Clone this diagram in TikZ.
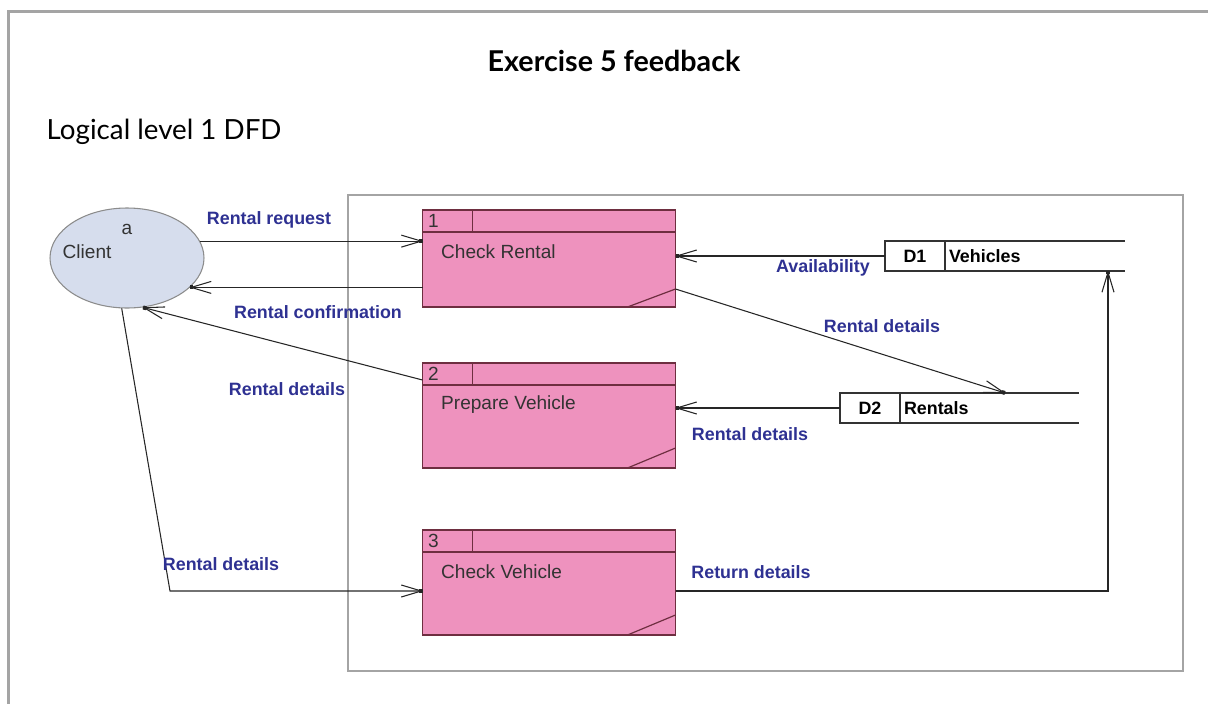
\documentclass[tikz,border=0pt]{standalone}
\usepackage{fontspec}
\setmainfont{Liberation Sans}
\newfontfamily\headfont{Lato}
\usetikzlibrary{arrows.meta, shapes.geometric}

\definecolor{procpink}{HTML}{EE92BE}
\definecolor{procedge}{HTML}{6E2E40}
\definecolor{clientblue}{HTML}{D6DDED}
\definecolor{flowblue}{HTML}{2E3192}
\definecolor{framegray}{HTML}{A4A4A4}

\tikzset{
    process/.style={draw=procedge, fill=procpink, line width=0.9pt, inner sep=0pt, outer sep=0pt, minimum width=189.75pt},
    store/.style={draw=black!80, line width=0.9pt, inner sep=0pt, outer sep=0pt, minimum width=45pt, minimum height=22.5pt, font=\fontsize{13.4}{16}\selectfont\bfseries},
    flow/.style={draw=black!85, line width=0.8pt, -{Straight Barb[length=15pt,width=9pt,sep=-3pt]Square[length=2.5pt,width=3pt]}},
    flowlabel/.style={text=flowblue, font=\fontsize{13.4}{16}\selectfont\bfseries},
    proctext/.style={text=black!80, font=\fontsize{14.3}{17}\selectfont, anchor=west}
}

\begin{document}
\begin{tikzpicture}[x=0.75pt, y=-0.75pt]
        \useasboundingbox (0,0) rectangle (1208,704);

        % page frame and heading
        \draw[framegray, line width=2.2pt] (8.5,704) -- (8.5,11.5) -- (1208,11.5);
        \node[font=\headfont\fontsize{21.5}{24}\selectfont\bfseries] (title) at (614,61) {Exercise 5 feedback};
        \node[font=\headfont\fontsize{20.8}{24}\selectfont, anchor=west] (subtitle) at (42,132) {Logical level 1 DFD};

        % system boundary
        \draw[framegray, line width=1.1pt] (348,195) rectangle (1183,671);

        % external entity
        \node[ellipse, draw=black!45, fill=clientblue, line width=0.8pt, minimum width=115.5pt, minimum height=75pt] (client) at (127,258) {};
        \node[proctext, anchor=center] (clienttag) at (127,229) {a};
        \node[proctext] (clientname) at (58,252) {Client};

        % processes
        \node[process, minimum height=72.75pt] (p1) at (549,258.5) {};
        \node[process, minimum height=78.75pt] (p2) at (549,415.5) {};
        \node[process, minimum height=78.75pt] (p3) at (549,582.5) {};

        \foreach \p/\num/\name/\cut in {p1/1/Check Rental/13.5pt, p2/2/Prepare Vehicle/15pt, p3/3/Check Vehicle/15pt}{
            \draw[procedge, line width=0.9pt] ([yshift=-16.5pt]\p.north west) -- ([yshift=-16.5pt]\p.north east);
            \draw[procedge, line width=0.9pt] ([xshift=37.5pt]\p.north west) -- ++(0,22);
            \draw[procedge, line width=0.9pt] ([xshift=-36pt]\p.south east) -- ([yshift=\cut]\p.south east);
            \node[proctext, anchor=center] at ([xshift=8.25pt,yshift=-8.25pt]\p.north west) {\num};
            \node[proctext] at ([xshift=10.5pt,yshift=-31.5pt]\p.north west) {\name};
        }

        % data stores
        \node[store] (d1) at (915,256) {D1};
        \draw[black!80, line width=0.9pt] (d1.north east) -- ++(180,0);
        \draw[black!80, line width=0.9pt] (d1.south east) -- ++(180,0);
        \node[store, draw=none, anchor=west] (d1name) at ([xshift=3pt]d1.east) {Vehicles};

        \node[store] (d2) at (870,408) {D2};
        \draw[black!80, line width=0.9pt] (d2.north east) -- ++(179,0);
        \draw[black!80, line width=0.9pt] (d2.south east) -- ++(179,0);
        \node[store, draw=none, anchor=west] (d2name) at ([xshift=3pt]d2.east) {Rentals};

        % free ends
        \coordinate (bend) at (170,591);
        \coordinate (ret) at (1108,591);
        \coordinate (d2top) at (1005,393);

        % data flows
        \draw[flow] (client.13) -- (client.13 -| p1.west);
        \draw[flow] (p1.west |- client.-25) -- (client.-25);
        \draw[flow] ([yshift=-12.75pt]p2.north west) -- (client.-72);
        \draw[flow] (client.-96) -- (bend) -- (bend -| p3.west);
        \draw[flow] (d1.west) -- (d1.west -| p1.east);
        \draw[flow] ([yshift=13.5pt]p1.south east) -- (d2top);
        \draw[flow] (d2.west) -- (d2.west -| p2.east);
        \draw[flow] (bend -| p3.east) -- (ret) -- (ret |- d1.south);

        \node[flowlabel] at (269,220) {Rental request};
        \node[flowlabel] at (318,312) {Rental confirmation};
        \node[flowlabel] at (287,389) {Rental details};
        \node[flowlabel] at (221,564) {Rental details};
        \node[flowlabel] at (823,268) {Availability};
        \node[flowlabel] at (882,326) {Rental details};
        \node[flowlabel] at (750,434) {Rental details};
        \node[flowlabel] at (751,572) {Return details};
\end{tikzpicture}
\end{document}
